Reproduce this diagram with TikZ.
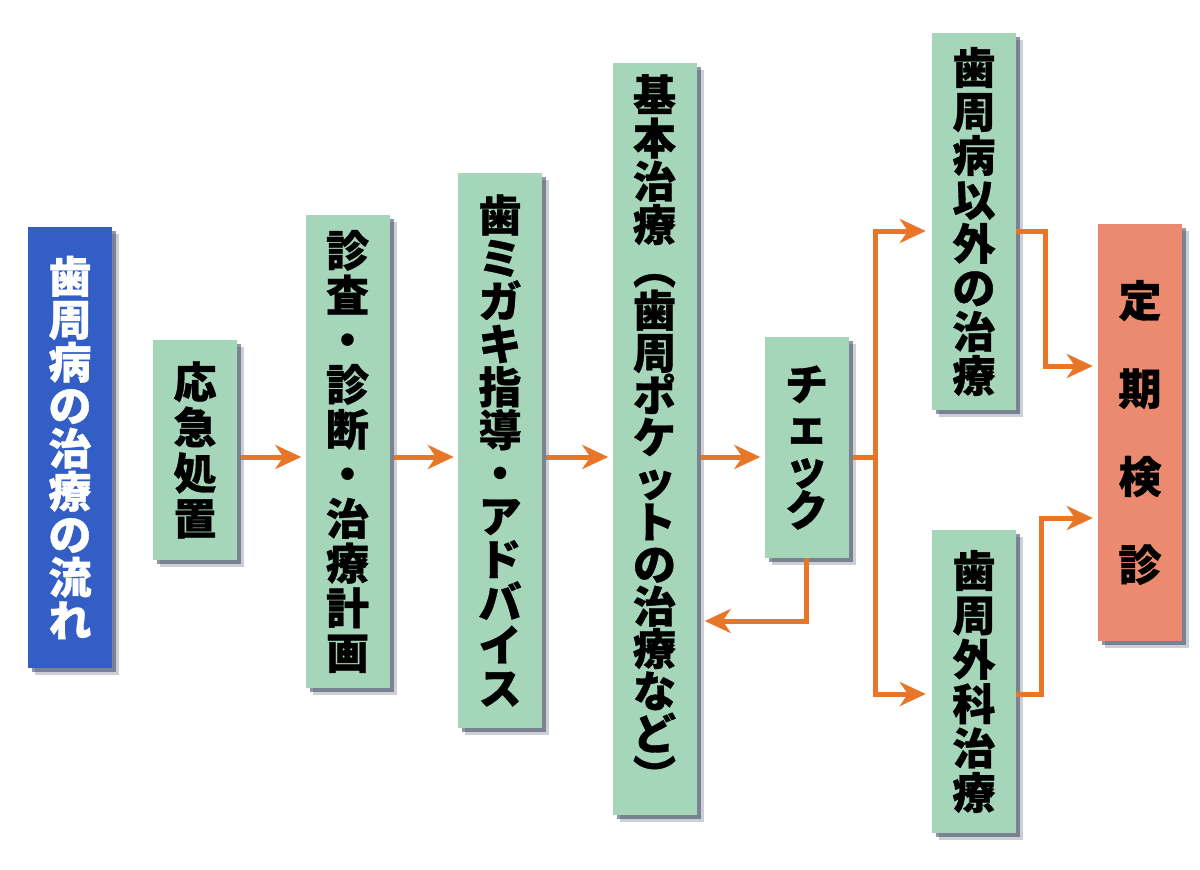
\documentclass[tikz,border=0pt]{standalone}
\usepackage{fontspec}
\newfontfamily\jp{Noto Sans CJK JP}[BoldFeatures={FakeBold=0.8}]
\usetikzlibrary{arrows.meta,shadows}
\definecolor{bblue}{RGB}{50,94,198}
\definecolor{bgreen}{RGB}{166,214,186}
\definecolor{bsalmon}{RGB}{236,138,112}
\definecolor{arrc}{RGB}{232,118,40}
\definecolor{shdc}{RGB}{55,65,90}
\begin{document}
\begin{tikzpicture}[x=1pt,y=-1pt,
  vfont/.style={font=\jp\bfseries\fontsize{43}{#1}\selectfont},
  box/.style={inner sep=0pt, minimum width=84pt, align=center, vfont=44,
    drop shadow={shadow xshift=7pt,shadow yshift=-7pt,fill=shdc,opacity=.25},
    drop shadow={shadow xshift=4pt,shadow yshift=-4pt,fill=shdc,opacity=.55}},
  gbox/.style={box, fill=bgreen, text=black},
  arrow/.style={draw=arrc, line width=5pt, line join=miter,
    -{Stealth[length=26pt,width=24pt,inset=8pt]}},
  link/.style={draw=arrc, line width=5pt}]
\useasboundingbox[fill=white] (0,0) rectangle (1200,870);

\node[box, fill=bblue, text=white, minimum height=441pt, vfont=43] (b1) at (70,447.5)
  {歯\\周\\病\\の\\治\\療\\の\\流\\れ};
\node[gbox, minimum height=220pt, vfont=45.5] (b2) at (195,450) {応\\急\\処\\置};
\node[gbox, minimum height=473pt, vfont=44.7] (b3) at (347.5,451.5)
  {診\\査\\・\\診\\断\\・\\治\\療\\計\\画};
\node[gbox, minimum height=555pt, vfont=43] (b4) at (500,450.5)
  {歯\\ミ\\ガ\\キ\\指\\導\\・\\ア\\ド\\バ\\イ\\ス};
\node[gbox, minimum height=752pt, vfont=42.3] (b5) at (654.5,439)
  {基\\[1pt]本\\[1pt]治\\[1pt]療\\[1pt]︵\\歯\\周\\ポ\\ケ\\ッ\\ト\\の\\治\\療\\な\\ど\\︶\rule[-12pt]{0pt}{1pt}};
\node[gbox, minimum height=221pt, vfont=42] (b6) at (806.5,447.5) {チ\\ェ\\ッ\\ク};
\node[gbox, minimum height=377pt, vfont=44] (b7) at (974,221.5)
  {歯\\周\\病\\以\\外\\の\\治\\療};
\node[gbox, minimum height=303pt, vfont=44.4] (b8) at (974,681.5)
  {歯\\周\\外\\科\\治\\療};
\node[box, fill=bsalmon, text=black, minimum height=417pt, vfont=88] (b9) at (1140,432.5)
  {定\\期\\検\\診};

\coordinate (row) at (0,457);
\coordinate (fb) at (0,621);
\coordinate (bx) at (875,0);
\coordinate (t7) at (0,231);
\coordinate (t8) at (0,694);
\coordinate (c7) at (1045,366);
\coordinate (c8) at (1041,518);

\draw[arrow, shorten <=4pt, shorten >=4pt] (b2.east |- row) -- (b3.west |- row);
\draw[arrow, shorten <=4pt, shorten >=4pt] (b3.east |- row) -- (b4.west |- row);
\draw[arrow, shorten <=4pt, shorten >=4pt] (b4.east |- row) -- (b5.west |- row);
\draw[arrow, shorten <=4pt, shorten >=4pt] (b5.east |- row) -- (b6.west |- row);
\draw[arrow, shorten >=8pt] (b6.south) -- (b6.south |- fb) -- (b5.east |- fb);
\draw[link, shorten <=4pt] (b6.east |- row) -- (bx |- row);
\draw[arrow, shorten >=6pt] (bx |- row) -- (bx |- t7) -- (b7.west |- t7);
\draw[arrow, shorten >=6pt] (bx |- row) -- (bx |- t8) -- (b8.west |- t8);
\draw[arrow, shorten >=5pt] (b7.east |- t7) -- (c7 |- t7) -- (c7) -- (b9.west |- c7);
\draw[arrow, shorten >=5pt] (b8.east |- t8) -- (c8 |- t8) -- (c8) -- (b9.west |- c8);
\end{tikzpicture}
\end{document}
